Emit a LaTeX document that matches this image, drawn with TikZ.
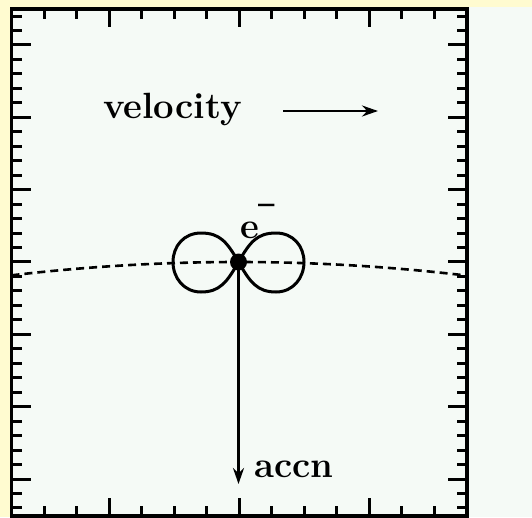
\documentclass[tikz,border=0pt]{standalone}
\usepackage{graphicx}
\usetikzlibrary{arrows.meta}
\definecolor{bgyellow}{RGB}{255,251,208}
\definecolor{panel}{RGB}{245,250,246}
\begin{document}
\begin{tikzpicture}[x=1pt,y=-1pt,
  frame/.style={line width=3.2pt},
  tickmark/.style={line width=3pt},
  lobe/.style={line width=3pt},
  arr/.style={line width=2.6pt,-{Stealth[length=16pt,width=11pt]}},
  lbl/.style={font=\fontsize{36.5}{40}\selectfont\bfseries, inner sep=0pt, anchor=base west}]
\fill[bgyellow] (0,0) rectangle (532,517);
\fill[panel] (10,7) rectangle (532,517);
\useasboundingbox (0,0) rectangle (532,517);
% dashed path of the charge
\draw[line width=2.6pt, dash pattern=on 8pt off 5pt]
  plot[domain=11.5:467, samples=80] (\x, {262+13.5*((\x-238)/228)^2});
% charge
\node[circle, fill=black, inner sep=0pt, minimum size=17pt] (q) at (238.5,262) {};
% radiation lobes
\draw[lobe] (q.center) .. controls (227,242) and (220,233) .. (201,233)
  .. controls (184,233) and (173,246) .. (173,262)
  .. controls (173,278) and (184,292) .. (201,292)
  .. controls (220,292) and (227,282) .. (q.center);
\draw[lobe] (q.center) .. controls (250,242) and (257,233) .. (276,233)
  .. controls (293,233) and (304,246) .. (304,262)
  .. controls (304,278) and (293,292) .. (276,292)
  .. controls (257,292) and (250,282) .. (q.center);
% arrows
\coordinate (v1) at (283,111);
\coordinate (v2) at (378,111);
\draw[arr] (v1) -- (v2);
\coordinate (a2) at (238.5,484);
\draw[arr] (q.center) -- (a2);
% ticks
\foreach \k in {1,...,13}{
  \pgfmathsetmacro\xx{11.5+32.536*\k}
  \pgfmathsetmacro\len{ifthenelse(mod(\k,4)==3,18,10)}
  \draw[tickmark] (\xx,9) -- ++(0,\len);
  \draw[tickmark] (\xx,516) -- ++(0,-\len);
}
\foreach \k in {0,...,34}{
  \pgfmathsetmacro\yy{16+14.47*\k}
  \pgfmathsetmacro\len{ifthenelse(mod(\k,5)==2,19,10)}
  \draw[tickmark] (11.5,\yy) -- ++(\len,0);
  \draw[tickmark] (467,\yy) -- ++(-\len,0);
}
\draw[frame] (11.5,9) rectangle (467,516);
% labels
\node[lbl] (vel) at (103,118) {velocity};
\node[lbl] (acc) at (254,477) {accn};
\node[lbl] (e) at (240,238) {e\raisebox{13pt}{\scalebox{0.8}[2]{--}}};
\end{tikzpicture}
\end{document}
